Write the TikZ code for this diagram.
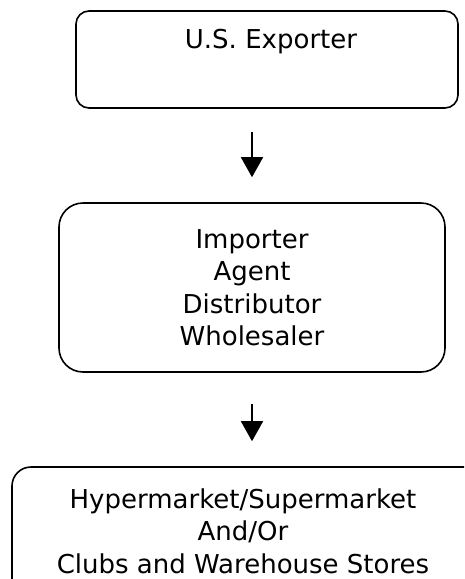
\documentclass[tikz,border=0pt]{standalone}
\usepackage{fontspec}
\setmainfont{DejaVu Sans}
\usetikzlibrary{arrows.meta}
\begin{document}
\begin{tikzpicture}[x=1pt,y=-1pt,
  box/.style={draw=black, line width=1.6pt, inner sep=0pt},
  txt/.style={font=\fontsize{26}{32.5}\selectfont, align=center, inner sep=0pt, text=black},
  flow/.style={line width=1.6pt, -{Triangle[width=22pt,length=20pt]}}]
\useasboundingbox (0,0) rectangle (464,579);
\clip (0,0) rectangle (464,579);
\fill[white] (0,0) rectangle (464,579);
\node[box, rounded corners=13pt, minimum width=382pt, minimum height=97pt] (top) at (267,59.5) {};
\node[txt] (toptext) at (271,42) {U.S. Exporter};
\node[box, rounded corners=24pt, minimum width=386pt, minimum height=169pt, txt] (mid) at (252,287.5) {Importer\\Agent\\Distributor\\Wholesaler};
\node[box, rounded corners=19pt, minimum width=488pt, minimum height=153pt] (bot) at (256,543.5) {};
\node[txt, text depth=0pt] (bottext) at (243,531) {Hypermarket/Supermarket\\And/Or\\Clubs and Warehouse Stores};
\draw[flow, shorten <=23pt, shorten >=25pt] (top.south -| mid.north) -- (mid.north);
\draw[flow, shorten <=31pt, shorten >=25pt] (mid.south) -- (mid.south |- bot.north);
\end{tikzpicture}
\end{document}
